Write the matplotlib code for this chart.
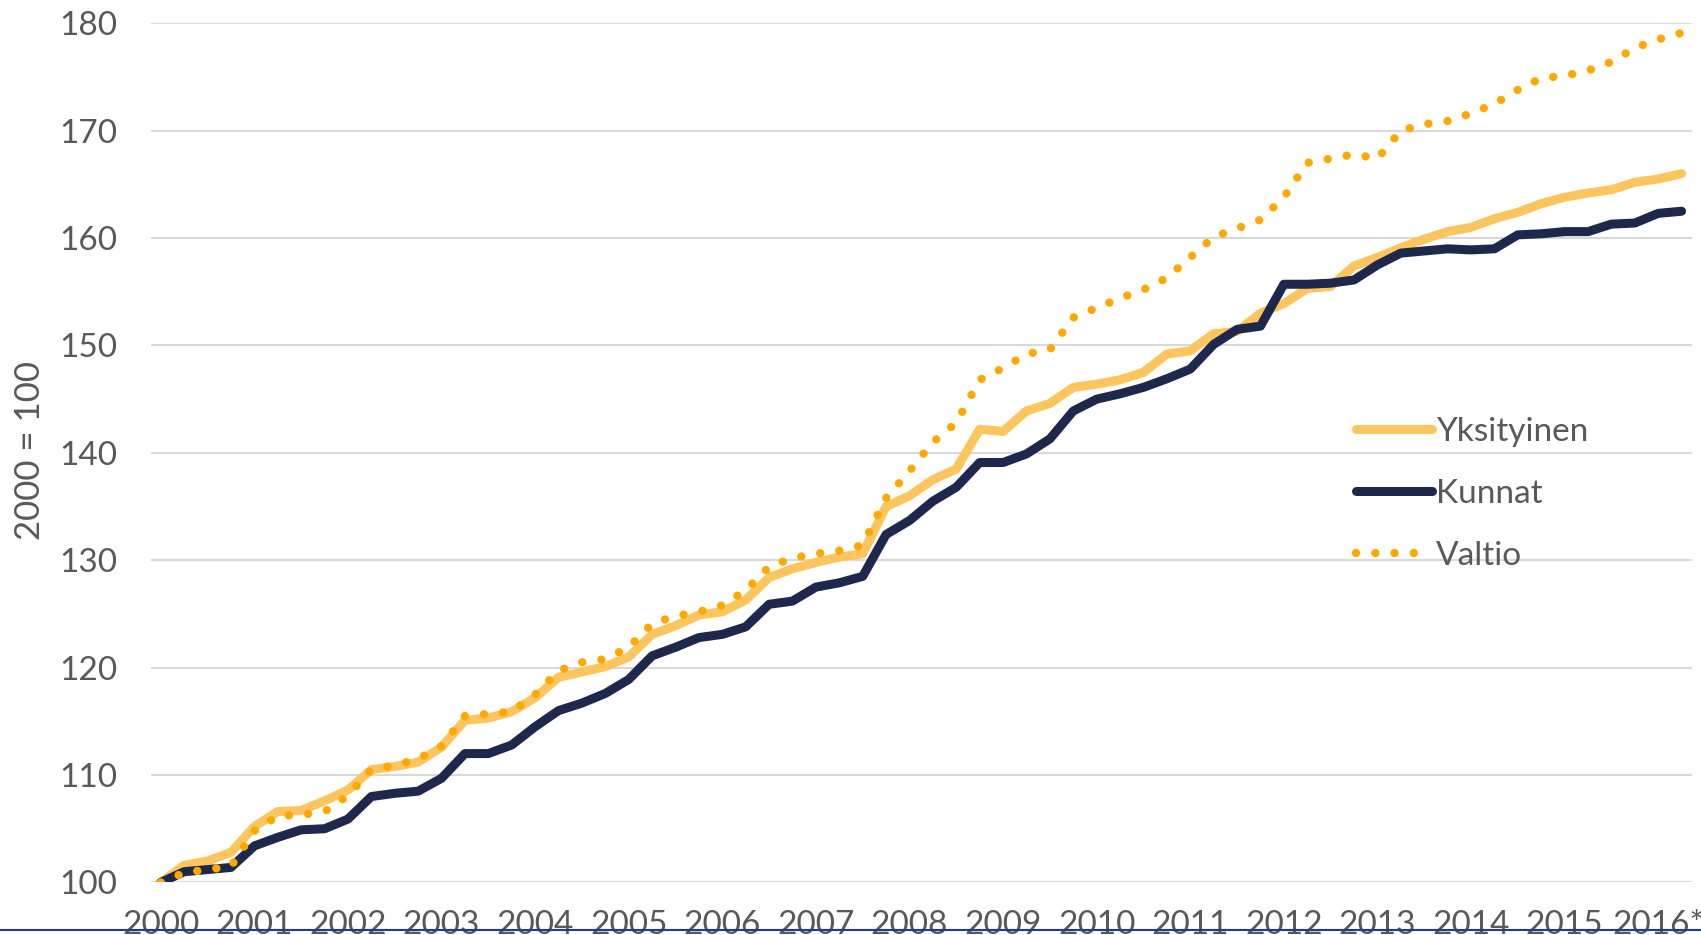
import matplotlib
matplotlib.use("Agg")
import matplotlib.pyplot as plt
from matplotlib.lines import Line2D
import numpy as np

# quarterly index values, 2000 Q1 .. 2016 Q2 (2000 = 100)
yksityinen = [100.0, 101.6, 102.0, 102.8, 105.2, 106.6, 106.7, 107.6, 108.6, 110.5,
              110.8, 111.2, 112.6, 115.1, 115.3, 115.9, 117.2, 119.1, 119.6, 120.1,
              121.0, 123.1, 123.9, 124.9, 125.2, 126.3, 128.4, 129.2, 129.8, 130.3,
              130.6, 135.0, 136.0, 137.5, 138.5, 142.2, 142.0, 143.9, 144.6, 146.1,
              146.4, 146.8, 147.5, 149.2, 149.5, 151.1, 151.3, 153.0, 153.9, 155.3,
              155.5, 157.4, 158.2, 159.1, 159.9, 160.6, 161.0, 161.8, 162.4, 163.2,
              163.8, 164.2, 164.5, 165.2, 165.5, 166.0]
kunnat = [100.0, 101.0, 101.2, 101.4, 103.4, 104.2, 104.9, 105.0, 105.9, 108.0,
          108.3, 108.5, 109.7, 112.0, 112.0, 112.8, 114.5, 116.0, 116.7, 117.6,
          118.9, 121.1, 121.9, 122.8, 123.1, 123.8, 125.9, 126.2, 127.5, 127.9,
          128.5, 132.4, 133.7, 135.5, 136.8, 139.1, 139.1, 139.9, 141.3, 143.9,
          145.0, 145.5, 146.1, 146.9, 147.8, 150.1, 151.5, 151.8, 155.7, 155.7,
          155.8, 156.1, 157.5, 158.6, 158.8, 159.0, 158.9, 159.0, 160.3, 160.4,
          160.6, 160.6, 161.3, 161.4, 162.3, 162.5]
valtio = [100.0, 100.9, 101.2, 101.5, 104.8, 106.2, 106.3, 106.6, 108.1, 110.5,
          110.9, 111.5, 112.7, 115.5, 115.7, 115.9, 117.5, 119.7, 120.5, 120.8,
          121.9, 124.1, 124.8, 125.2, 125.8, 127.2, 129.4, 130.2, 130.6, 130.9,
          131.4, 135.8, 138.3, 141.0, 142.8, 146.8, 147.9, 149.2, 149.6, 152.6,
          153.5, 154.4, 155.2, 156.3, 158.2, 160.1, 160.9, 161.7, 163.8, 167.0,
          167.4, 167.8, 167.4, 170.0, 170.6, 170.9, 171.6, 172.5, 173.8, 174.9,
          175.1, 175.6, 176.4, 177.7, 178.5, 179.1]
year_labels = ['2000', '2001', '2002', '2003', '2004', '2005', '2006', '2007', '2008',
               '2009', '2010', '2011', '2012', '2013', '2014', '2015', '2016*']

plt.rcParams['font.family'] = ['Lato', 'DejaVu Sans']
grey = '#595959'

fig = plt.figure(figsize=(17.01, 9.35), dpi=100)
ax = fig.add_axes([0.0886, 0.0562, 0.9059, 0.9189])

x = np.arange(len(kunnat))
ax.plot(x, yksityinen, color='#fdc55e', lw=6.5, solid_joinstyle='round',
        solid_capstyle='round', label='Yksityinen')
ax.plot(x, kunnat, color='#1e284d', lw=6.5, solid_joinstyle='round',
        solid_capstyle='round', label='Kunnat')
ax.plot(x, valtio, color='#ffa800', lw=6, dashes=[0.01, 2.3],
        dash_capstyle='round', label='Valtio')

ax.set_xlim(-0.43, len(kunnat) - 1 + 0.43)
ax.set_ylim(100, 180)
ax.set_yticks(np.arange(100, 181, 10))
ax.set_xticks(x[::4])
ax.set_xticklabels(year_labels)

ax.grid(axis='y', color='#d9d9d9', lw=1.5)
ax.set_axisbelow(True)
for s in ax.spines.values():
    s.set_visible(False)
ax.tick_params(axis='both', length=0, labelsize=24, labelcolor=grey)
ax.tick_params(axis='x', pad=20)
ax.tick_params(axis='y', pad=24)

fig.text(30 / 1701, 1 - 450 / 935, '2000 = 100', rotation=90, fontsize=25,
         color=grey, ha='center', va='center')

leg = ax.legend(loc='upper left', bbox_to_anchor=(1356 / 1701, 1 - 417 / 935),
                bbox_transform=fig.transFigure, frameon=False, fontsize=24,
                handlelength=2.28, handletextpad=0.12, labelspacing=0.96,
                borderpad=0, borderaxespad=0)
for t in leg.get_texts():
    t.set_color(grey)

# thin blue border line at the very bottom
fig.add_artist(Line2D([0, 1], [1 - 930 / 935] * 2, transform=fig.transFigure,
                      color='#1c3aa0', lw=1.5, zorder=10))

fig.savefig('out.png', dpi=100)
